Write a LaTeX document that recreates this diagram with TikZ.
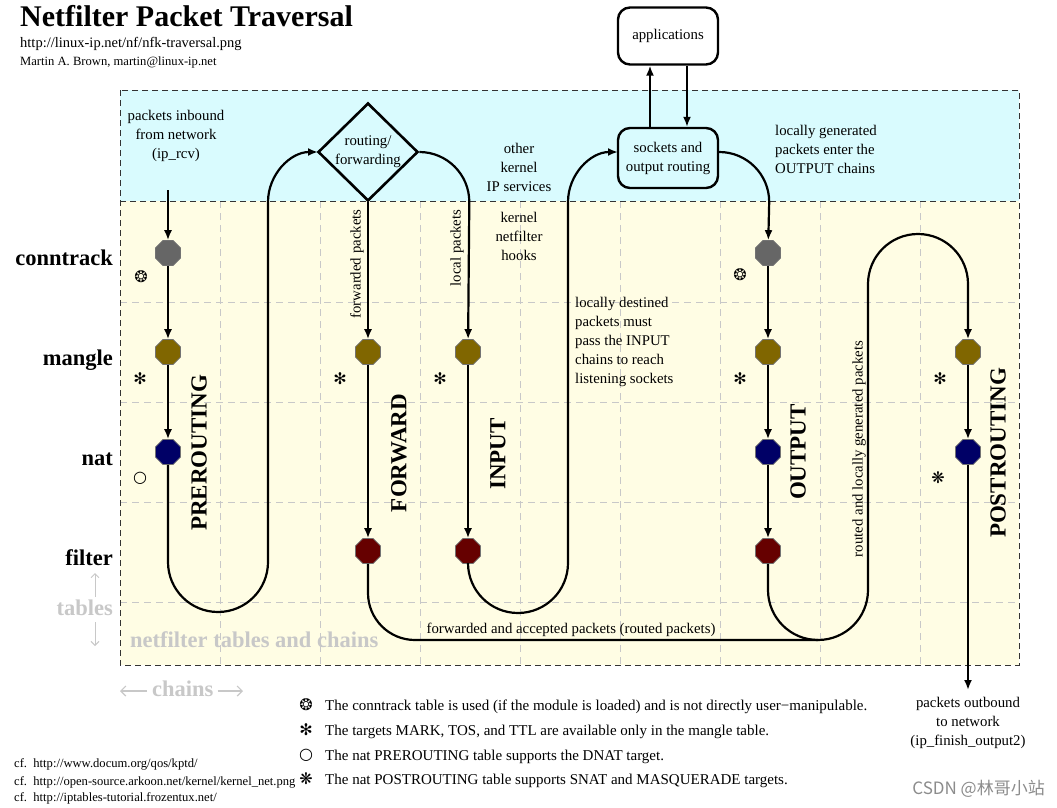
\documentclass[tikz,border=0pt]{standalone}
\usepackage{fontspec}
\setmainfont{Liberation Serif}
\newfontfamily\symfont{DejaVu Sans}
\newfontfamily\cjkfont{Noto Sans CJK SC}
\usetikzlibrary{shapes.geometric,arrows.meta}
\definecolor{cyanbg}{HTML}{D9FBFE}
\definecolor{yelbg}{HTML}{FFFDE4}
\definecolor{gridc}{HTML}{C8C8C8}
\definecolor{ctc}{HTML}{666666}
\definecolor{mgc}{HTML}{806600}
\definecolor{ntc}{HTML}{000066}
\definecolor{flc}{HTML}{660000}
\definecolor{lightt}{HTML}{C8C8C8}
\begin{document}
\begin{tikzpicture}[x=1pt,y=-1pt,
  gridline/.style={gridc, line width=0.9pt, dash pattern=on 7pt off 5pt},
  regionborder/.style={black!80, line width=1pt, dash pattern=on 6pt off 4pt},
  oct/.style={regular polygon, regular polygon sides=8, minimum size=27pt, inner sep=0pt, draw=black!55, line width=0.7pt},
  flow/.style={line width=2.2pt, black},
  thinflow/.style={line width=1.8pt, black},
  arr/.style={-{Latex[length=10pt,width=8pt]}},
  body/.style={font=\fontsize{14.8}{19}\selectfont, inner sep=0pt},
  tbl/.style={font=\fontsize{22.5}{24}\selectfont\bfseries, inner sep=0pt},
  chainlbl/.style={font=\fontsize{23}{24}\selectfont\bfseries, inner sep=0pt, rotate=90},
  grey/.style={font=\fontsize{22.5}{24}\selectfont\bfseries, inner sep=0pt, lightt},
  sym/.style={font=\symfont\fontsize{16}{16}\selectfont, inner sep=0pt},
  box/.style={draw, line width=2.4pt, rounded corners=12pt, align=center, font=\fontsize{14.8}{19}\selectfont, inner sep=0pt},
  legend/.style={font=\fontsize{15}{17}\selectfont, inner sep=0pt, anchor=base west},
  cf/.style={font=\fontsize{12.6}{14}\selectfont, inner sep=0pt, anchor=base west}
]
\useasboundingbox (0,0) rectangle (1057,808);
\fill[white] (0,0) rectangle (1057,808);

% regions
\fill[cyanbg] (120,90) rectangle (1019,201);
\fill[yelbg] (120,201) rectangle (1019,665);
\foreach \x in {220,320,...,920} \draw[gridline] (\x,201) -- (\x,665);
\foreach \y in {302,402,502,602} \draw[gridline] (120,\y) -- (1019,\y);
\draw[regionborder] (120,90) rectangle (1019,665);
\draw[regionborder] (120,201) -- (1019,201);

% title
\node[anchor=base west, inner sep=0pt, font=\fontsize{30}{30}\selectfont\bfseries] (title) at (20,27) {Netfilter Packet Traversal};
\node[anchor=base west, inner sep=0pt, font=\fontsize{14.5}{15}\selectfont] (url) at (20,48) {http://linux-ip.net/nf/nfk-traversal.png};
\node[anchor=base west, inner sep=0pt, font=\fontsize{12.6}{13}\selectfont] (auth) at (20,66) {Martin A. Brown, martin@linux-ip.net};

% table labels
\node[tbl, anchor=base east] (lct) at (113,265) {conntrack};
\node[tbl, anchor=base east] (lmg) at (113,365) {mangle};
\node[tbl, anchor=base east] (lnt) at (113,465) {nat};
\node[tbl, anchor=base east] (lfl) at (113,565) {filter};
\node[grey, anchor=base east] (ltb) at (113,615) {tables};
\coordinate (tbup) at (95,573);
\coordinate (tbdn) at (95,646);
\draw[lightt, line width=1pt, -{Straight Barb[length=4pt]}] (95,597) -- (tbup);
\draw[lightt, line width=1pt, -{Straight Barb[length=4pt]}] (95,622) -- (tbdn);
\node[grey, anchor=base west] (nftc) at (130,647) {netfilter tables and chains};
\node[grey, anchor=base west] (chn) at (152,696) {chains};
\coordinate (chl) at (120,691);
\coordinate (chr) at (243,691);
\draw[lightt, line width=1.2pt, -{Straight Barb[length=5pt]}] ([xshift=-5pt]chn.west |- chl) -- (chl);
\draw[lightt, line width=1.2pt, -{Straight Barb[length=5pt]}] ([xshift=4pt]chn.east |- chr) -- (chr);

% octagons
\node[oct, fill=ctc] (pc) at (168,253) {};
\node[oct, fill=mgc] (pm) at (168,352) {};
\node[oct, fill=ntc] (pn) at (168,452) {};
\node[oct, fill=mgc] (fm) at (368,352) {};
\node[oct, fill=flc] (ff) at (368,551) {};
\node[oct, fill=mgc] (im) at (468,352) {};
\node[oct, fill=flc] (if) at (468,551) {};
\node[oct, fill=ctc] (oc) at (768,253) {};
\node[oct, fill=mgc] (om) at (768,352) {};
\node[oct, fill=ntc] (on) at (768,452) {};
\node[oct, fill=flc] (of) at (768,551) {};
\node[oct, fill=mgc] (qm) at (968,352) {};
\node[oct, fill=ntc] (qn) at (968,452) {};

% routing diamond and boxes
\node[diamond, draw, line width=2.6pt, minimum width=100pt, minimum height=98pt, inner sep=0pt, align=center, font=\fontsize{14.8}{19}\selectfont] (rt) at (368,152) {routing/\\forwarding};
\node[box, fill=cyanbg, minimum width=100pt, minimum height=60pt] (sock) at (668,158) {sockets and\\output routing};
\node[box, fill=white, minimum width=100pt, minimum height=57pt] (app) at (668,36) {applications};

% flows
\node[body, align=center] (inb) at (176,136) {packets inbound\\from network\\(ip\_rcv)};
\coordinate (in) at (168,190);
\draw[flow,arr] (in) -- (pc);
\draw[flow,arr] (pc) -- (pm);
\draw[flow,arr] (pm) -- (pn);
\draw[flow,arr] (pn) -- (168,562) arc[start angle=180,end angle=0,radius=50] -- (268,202) arc[start angle=180,end angle=270,radius=50];

\draw[flow,arr] (rt.south) -- (fm);
\draw[flow,arr] (fm) -- (ff);
\draw[flow] (ff) -- (368,593) arc[start angle=180,end angle=90,radius=47] -- (818,640);

\draw[flow,arr] (rt.east) arc[start angle=270,end angle=360,radius=50] -- (im);
\draw[flow,arr] (im) -- (if);
\draw[flow,arr] (if) -- (468,563) arc[start angle=180,end angle=0,radius=50] -- (568,202) arc[start angle=180,end angle=270,radius=50];

\draw[thinflow,arr] ([xshift=-18pt]sock.north) -- ([xshift=-18pt]app.south);
\draw[thinflow,arr] ([xshift=19pt]app.south) -- ([xshift=19pt]sock.north);

\draw[flow,arr] ([yshift=6pt]sock.east) arc[start angle=270,end angle=360,radius=50] -- (oc);
\draw[flow,arr] (oc) -- (om);
\draw[flow,arr] (om) -- (on);
\draw[flow,arr] (on) -- (of);
\draw[flow,arr] (of) -- (768,590) arc[start angle=180,end angle=0,radius=50] -- (868,284) arc[start angle=180,end angle=360,radius=50] -- (qm);
\draw[flow,arr] (qm) -- (qn);
\coordinate (out) at (968,690);
\draw[flow,arr] (qn) -- (out);

% chain labels
\node[chainlbl] (cpre) at (199,453) {PREROUTING};
\node[chainlbl] (cfwd) at (399,453) {FORWARD};
\node[chainlbl] (cinp) at (498,454) {INPUT};
\node[chainlbl] (cout) at (798,452) {OUTPUT};
\node[chainlbl] (cpost) at (998,453) {POSTROUTING};

% texts
\node[body, align=center] (oth) at (519,167) {other\\kernel\\IP services};
\node[body, align=center] (hooks) at (519,236) {kernel\\netfilter\\hooks};
\node[body, align=left, anchor=west] (locgen) at (775,149) {locally generated\\packets enter the\\OUTPUT chains};
\node[body, align=left, anchor=west] (locdst) at (575,342) {locally destined\\packets must\\pass the INPUT\\chains to reach\\listening sockets};
\node[body] (fwdacc) at (571,630) {forwarded and accepted packets (routed packets)};
\node[body, rotate=90] (fwdp) at (357,264) {forwarded packets};
\node[body, rotate=90] (locp) at (457,248) {local packets};
\node[body, rotate=90] (rlg) at (859,449) {routed and locally generated packets};
\node[body, align=center] (outb) at (968,723) {packets outbound\\to network\\(ip\_finish\_output2)};

% symbols near chains
\node[sym] (s1) at (141,277) {❂};
\node[sym] (s2) at (740,275) {❂};
\node[sym] (s3) at (140,379) {✻};
\node[sym] (s4) at (340,379) {✻};
\node[sym] (s5) at (440,379) {✻};
\node[sym] (s6) at (740,379) {✻};
\node[sym] (s7) at (940,379) {✻};
\node[sym] (s8) at (140,478) {○};
\node[sym] (s9) at (938,478) {❋};

% legend
\node[sym] (l1) at (306,705) {❂};
\node[sym] (l2) at (306,730) {✻};
\node[sym] (l3) at (306,755) {○};
\node[sym] (l4) at (306,779) {❋};
\node[legend] (t1) at (325,710) {The conntrack table is used (if the module is loaded) and is not directly user−manipulable.};
\node[legend] (t2) at (325,735) {The targets MARK, TOS, and TTL are available only in the mangle table.};
\node[legend] (t3) at (325,760) {The nat PREROUTING table supports the DNAT target.};
\node[legend] (t4) at (325,784) {The nat POSTROUTING table supports SNAT and MASQUERADE targets.};

\node[cf] (cf1) at (14,767) {cf.\ \ http://www.docum.org/qos/kptd/};
\node[cf] (cf2) at (14,785) {cf.\ \ http://open-source.arkoon.net/kernel/kernel\_net.png};
\node[cf] (cf3) at (14,801) {cf.\ \ http://iptables-tutorial.frozentux.net/};

\node[anchor=east, inner sep=0pt, font=\cjkfont\fontsize{17}{18}\selectfont, black!45] (wm) at (1045,789) {CSDN @林哥小站};
\end{tikzpicture}
\end{document}
